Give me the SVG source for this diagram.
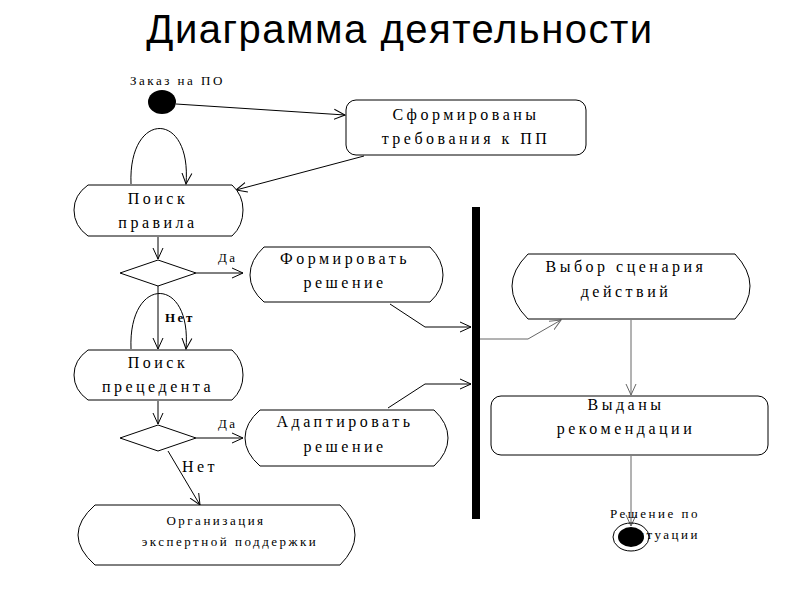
<svg xmlns="http://www.w3.org/2000/svg" width="800" height="600" viewBox="0 0 800 600">
<style>
.n{fill:#fff;stroke:#000;stroke-width:1}
.t{font-family:"Times New Roman","Liberation Serif","DejaVu Serif",serif;font-size:16px;letter-spacing:3.5px;text-anchor:middle;fill:#000}
.s{font-family:"Times New Roman","Liberation Serif","DejaVu Serif",serif;font-size:13px;letter-spacing:2.5px;fill:#000}
.c{fill:none;stroke:#000;stroke-width:1}
.g{fill:none;stroke:#666;stroke-width:1}
</style>
<defs>
<marker id="a" viewBox="0 0 12 12" refX="11" refY="6" markerWidth="12" markerHeight="12" markerUnits="userSpaceOnUse" orient="auto"><path d="M0,1 L11,6 L0,11" fill="none" stroke="#000"/></marker>
<marker id="ag" viewBox="0 0 12 12" refX="11" refY="6" markerWidth="12" markerHeight="12" markerUnits="userSpaceOnUse" orient="auto"><path d="M0,1 L11,6 L0,11" fill="none" stroke="#666"/></marker>
</defs>
<rect width="800" height="600" fill="#fff"/>
<text x="400" y="43" text-anchor="middle" font-family="Liberation Sans,sans-serif" font-size="40" letter-spacing="1.5">Диаграмма деятельности</text>
<g id="connectors">
<path class="c" d="M176,104 L345,115" marker-end="url(#a)"/>
<path class="c" d="M364,156 L236,190" marker-end="url(#a)"/>
<path class="c" d="M131,184 C128,110 192,110 186,184" marker-end="url(#a)"/>
<path class="c" d="M158,237 L158,259" marker-end="url(#a)"/>
<path class="c" d="M196,273 L243,273" marker-end="url(#a)"/>
<path class="c" d="M158,286 L158,349" marker-end="url(#a)"/>
<path class="c" d="M131,349 C128,275 192,275 186,349" marker-end="url(#a)"/>
<path class="c" d="M158,401 L158,424" marker-end="url(#a)"/>
<path class="c" d="M196,438 L243,438" marker-end="url(#a)"/>
<path class="c" d="M168,451 L200,505" marker-end="url(#a)"/>
<path class="c" d="M390,304 L425,327 L471,327" marker-end="url(#a)"/>
<path class="c" d="M388,408 L425,384 L471,384" marker-end="url(#a)"/>
<path class="g" d="M480,339 L528,339 L561,320" marker-end="url(#ag)"/>
<path class="g" d="M631,320 L631,395" marker-end="url(#ag)"/>
<path class="g" d="M631,456 L631,526" marker-end="url(#ag)"/>
</g>
<g id="start"><ellipse cx="162" cy="102" rx="14" ry="12" fill="#000"/><text class="s" x="130" y="85">Заказ на ПО</text></g>
<g id="req"><rect class="n" x="346" y="100" width="240" height="55" rx="10"/><text class="t" x="466" y="120">Сформированы</text><text class="t" x="466" y="144">требования к ПП</text></g>
<g id="rule"><path class="n" d="M88,185 L232,185 Q243,195 243,210 Q243,226 232,236 L88,236 Q74,226 74,210 Q74,195 88,185Z"/><text class="t" x="158" y="204">Поиск</text><text class="t" x="158" y="228">правила</text></g>
<g id="d1"><path class="n" d="M120,273 L158,260 L196,273 L158,286Z"/><text class="s" x="218" y="262">Да</text><text class="s" x="165" y="322" font-weight="bold">Нет</text></g>
<g id="form"><path class="n" d="M264,247 L430,247 Q443,260 443,275 Q443,290 430,302 L264,302 Q250,290 250,275 Q250,260 264,247Z"/><text class="t" x="345" y="264">Формировать</text><text class="t" x="345" y="288">решение</text></g>
<g id="prec"><path class="n" d="M88,350 L232,350 Q243,360 243,375 Q243,390 232,400 L88,400 Q74,390 74,375 Q74,360 88,350Z"/><text class="t" x="158" y="368">Поиск</text><text class="t" x="158" y="392">прецедента</text></g>
<g id="d2"><path class="n" d="M120,438 L158,425 L196,438 L158,451Z"/><text class="s" x="218" y="428">Да</text><text class="t" x="200" y="472">Нет</text></g>
<g id="adapt"><path class="n" d="M260,410 L434,410 Q448,423 448,438 Q448,453 434,466 L260,466 Q245,453 245,438 Q245,423 260,410Z"/><text class="t" x="345" y="427">Адаптировать</text><text class="t" x="345" y="452">решение</text></g>
<g id="expert"><path class="n" d="M95,505 L340,505 Q355,520 355,535 Q355,550 340,565 L95,565 Q78,550 78,535 Q78,520 95,505Z"/><text class="s" x="216" y="525" text-anchor="middle">Организация</text><text class="s" x="230" y="546" text-anchor="middle">экспертной поддержки</text></g>
<g id="bar"><rect x="472" y="207" width="8" height="312" fill="#000"/></g>
<g id="choice"><path class="n" d="M528,254 L735,254 Q750,270 750,286 Q750,303 735,319 L528,319 Q512,303 512,286 Q512,270 528,254Z"/><text class="t" x="626" y="272">Выбор сценария</text><text class="t" x="626" y="297">действий</text></g>
<g id="recs"><rect class="n" x="491" y="396" width="277" height="59" rx="10"/><text class="t" x="626" y="410">Выданы</text><text class="t" x="626" y="434">рекомендации</text></g>
<g id="end"><text class="s" x="655" y="518" text-anchor="middle">Решение по</text><text class="s" x="700" y="539" text-anchor="end">ситуации</text><ellipse cx="631" cy="537" rx="18" ry="14" fill="#fff" fill-opacity="0" stroke="#000"/><ellipse cx="631" cy="537" rx="13" ry="10" fill="#000"/></g>
</svg>
